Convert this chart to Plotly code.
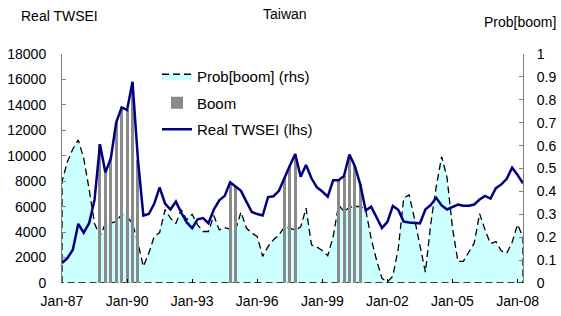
import plotly.graph_objects as go

# Quarterly observations, Q1 1987 .. Q2 2008 (86 quarters)
quarter_index = list(range(86))

real_twsei = [
    1570, 1960, 2610, 4650, 3950, 4700, 6530, 10900, 8680, 9800,
    12630, 13800, 13600, 15810, 9700, 5300, 5420, 6220, 7520, 6250,
    5780, 6400, 5520, 4760, 4310, 5000, 5100, 4700, 5780, 6500,
    6850, 7920, 7580, 7240, 6400, 5580, 5420, 5300, 6760, 6820,
    7250, 8300, 9220, 10140, 8360, 9280, 8230, 7520, 7190, 6780,
    8080, 8080, 8420, 10100, 9180, 7750, 5700, 6000, 5200, 4320,
    4800, 6060, 5750, 4830, 4750, 4720, 4690, 5780, 6140, 6700,
    6100, 5780, 6000, 6170, 6070, 6080, 6170, 6560, 6840, 6640,
    7450, 7750, 8190, 9060, 8490, 7840,
]

prob_boom = [
    0.443, 0.53, 0.585, 0.625, 0.545, 0.41, 0.26, 0.203, 0.26, 0.262,
    0.268, 0.30, 0.29, 0.26, 0.175, 0.072, 0.13, 0.203, 0.22, 0.32,
    0.283, 0.26, 0.32, 0.276, 0.30, 0.254, 0.225, 0.225, 0.295, 0.232,
    0.242, 0.235, 0.232, 0.31, 0.24, 0.218, 0.203, 0.116, 0.16, 0.189,
    0.21, 0.244, 0.24, 0.232, 0.244, 0.327, 0.167, 0.157, 0.142, 0.119,
    0.203, 0.341, 0.312, 0.33, 0.334, 0.334, 0.32, 0.195, 0.10, 0.02,
    0.005, 0.03, 0.15, 0.37, 0.385, 0.28, 0.16, 0.047, 0.26, 0.42,
    0.552, 0.46, 0.24, 0.094, 0.095, 0.134, 0.174, 0.303, 0.232, 0.172,
    0.181, 0.14, 0.13, 0.178, 0.256, 0.2,
]

# Boom quarters (1 = boom)
boom_flag = [0] * 86
for q in list(range(7, 15)) + [31, 32] + [41, 42, 43] + [51, 52, 53, 54, 55]:
    boom_flag[q] = 1

tick_positions = [0, 12, 24, 36, 48, 60, 72, 84]
tick_labels = ["Jan-87", "Jan-90", "Jan-93", "Jan-96", "Jan-99", "Jan-02", "Jan-05", "Jan-08"]

FONT = "Liberation Sans, Arial, sans-serif"
AXIS_GREY = "#808080"

boom_heights = [v if f else None for v, f in zip(real_twsei, boom_flag)]

# closed polygon for the probability area so its outline is dashed all round
poly_x = [quarter_index[0]] + quarter_index + [quarter_index[-1], quarter_index[0]]
poly_y = [0] + prob_boom + [0, 0]

W, H, L, R, T, B = 561, 316, 62, 38, 54, 33
pw, ph = W - L - R, H - T - B

def px_ann(text, x, y, size=14):
    return dict(text=text, xref="paper", yref="paper",
                x=(x - L) / pw, y=(H - B - y) / ph,
                xanchor="center", yanchor="middle", showarrow=False,
                font=dict(size=size))

fig = go.Figure()
fig.add_trace(go.Scatter(
    x=poly_x, y=poly_y, mode="lines", fill="toself", fillcolor="#ccffff",
    line=dict(color="black", width=1.3, dash="7px,4px"),
    name="Prob[boom] (rhs)", yaxis="y", legendgroup="a",
))
fig.add_trace(go.Bar(
    x=quarter_index, y=boom_heights, width=0.55,
    marker=dict(color="#8a8a8a", line=dict(width=0)),
    name="Boom", yaxis="y2", legendgroup="b",
))
fig.add_trace(go.Scatter(
    x=quarter_index, y=real_twsei, mode="lines",
    line=dict(color="#000080", width=2.5),
    name="Real TWSEI (lhs)", yaxis="y2", legendgroup="c",
))

fig.update_layout(
    width=W, height=H,
    margin=dict(l=L, r=R, t=T, b=B, autoexpand=False),
    paper_bgcolor="white", plot_bgcolor="white",
    font=dict(family=FONT, size=14, color="black"),
    showlegend=True,
    legend=dict(x=(157 - L) / pw, y=(H - B - 60) / ph, xanchor="left", yanchor="top",
                bgcolor="rgba(0,0,0,0)", borderwidth=0,
                font=dict(size=15), traceorder="grouped", tracegroupgap=4),
    bargap=0,
    xaxis=dict(range=[0, 85], tickvals=tick_positions, ticktext=tick_labels,
               ticks="inside", ticklen=4, tickcolor="black", showline=False,
               showgrid=False, zeroline=False, tickfont=dict(size=14),
               ticklabelstandoff=8, automargin=False),
    yaxis=dict(range=[0, 1], dtick=0.1, side="right", ticks="inside", ticklen=4,
               tickcolor=AXIS_GREY, showline=True, linecolor=AXIS_GREY, linewidth=1,
               showgrid=False, zeroline=False, tickfont=dict(size=14),
               ticklabelstandoff=10, automargin=False),
    yaxis2=dict(range=[0, 18000], dtick=2000, side="left", overlaying="y",
                ticks="inside", ticklen=4, tickcolor=AXIS_GREY, showline=True,
                linecolor=AXIS_GREY, linewidth=1, showgrid=False, zeroline=False,
                tickformat="d", tickfont=dict(size=14), ticklabelstandoff=12,
                automargin=False),
    annotations=[
        px_ann("Taiwan", 285, 14),
        px_ann("Real TWSEI", 59, 16),
        px_ann("Prob[boom]", 520, 22),
    ],
)

fig.write_html("out.html", config={"displayModeBar": False, "staticPlot": True},
               post_script="document.body.style.margin='0px';")
